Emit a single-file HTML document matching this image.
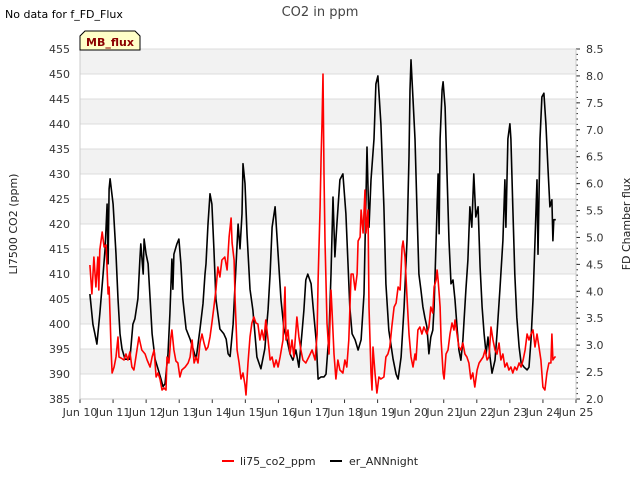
<!DOCTYPE html>
<html><head><meta charset="utf-8"><style>
body{margin:0;background:#fff;font-family:"Liberation Sans","DejaVu Sans",sans-serif;}
svg text{font-family:"DejaVu Sans","Liberation Sans",sans-serif;}
</style></head><body>
<svg id="chart" width="640" height="480" viewBox="0 0 640 480" xmlns="http://www.w3.org/2000/svg">
<rect width="640" height="480" fill="#fff"/>
<text x="320" y="16" text-anchor="middle" font-size="13" fill="#444">CO2 in ppm</text>
<text x="5" y="18" font-size="11" fill="#000">No data for f_FD_Flux</text>
<g id="bands"></g>
<g id="grid"></g>
<g id="axes"></g>
<g id="series"></g>
<g>
<path d="M80,50 L80,36 L85,31 L135,31 L140,36 L140,50 Z" fill="#ffffc8" stroke="#000" stroke-width="1"/>
<text x="110" y="46" text-anchor="middle" font-size="11" font-weight="bold" fill="#8b0000">MB_flux</text>
</g>
<text transform="translate(17,224) rotate(-90)" text-anchor="middle" font-size="11" fill="#222">LI7500 CO2 (ppm)</text>
<text transform="translate(630,224) rotate(-90)" text-anchor="middle" font-size="11" fill="#222">FD Chamber flux</text>
<g>
<g><line x1="222" y1="461" x2="234" y2="461" stroke="#f00" stroke-width="2"/><text x="240" y="465" font-size="11" fill="#222">li75_co2_ppm</text></g>
<g><line x1="330" y1="461" x2="342" y2="461" stroke="#000" stroke-width="2"/><text x="349" y="465" font-size="11" fill="#222">er_ANNnight</text></g>
</g>
</svg>
<script>
const leftTicks=[385,390,395,400,405,410,415,420,425,430,435,440,445,450,455];
const rightTicks=[2.0,2.5,3.0,3.5,4.0,4.5,5.0,5.5,6.0,6.5,7.0,7.5,8.0,8.5];
const dayLabels=["Jun 10","Jun 11","Jun 12","Jun 13","Jun 14","Jun 15","Jun 16","Jun 17","Jun 18","Jun 19","Jun 20","Jun 21","Jun 22","Jun 23","Jun 24","Jun 25"];
const co2Times=[0.30,0.36,0.42,0.48,0.54,0.57,0.60,0.67,0.73,0.79,0.82,0.85,0.88,0.91,0.94,0.97,1.03,1.09,1.15,1.18,1.24,1.33,1.39,1.45,1.51,1.57,1.63,1.69,1.78,1.87,1.97,2.03,2.12,2.18,2.24,2.30,2.36,2.42,2.48,2.54,2.60,2.63,2.69,2.75,2.78,2.84,2.90,2.96,3.02,3.08,3.18,3.27,3.33,3.39,3.45,3.51,3.57,3.63,3.69,3.75,3.81,3.87,3.93,3.99,4.05,4.11,4.17,4.23,4.29,4.38,4.45,4.51,4.57,4.60,4.66,4.69,4.75,4.81,4.87,4.93,4.99,5.02,5.08,5.14,5.20,5.26,5.32,5.38,
5.44,5.50,5.56,5.62,5.69,5.75,5.81,5.87,5.93,5.99,6.05,6.14,6.20,6.23,6.29,6.35,6.41,6.47,6.56,6.62,6.68,6.74,6.83,6.92,7.02,7.11,7.17,7.20,7.26,7.29,7.32,7.35,7.38,7.41,7.47,7.53,7.59,7.62,7.68,7.74,7.80,7.86,7.95,8.01,8.07,8.13,8.20,8.26,8.32,8.38,8.41,8.47,8.50,8.56,8.62,8.65,8.71,8.74,8.80,8.83,8.86,8.92,8.98,9.04,9.10,9.19,9.25,9.31,9.37,9.43,9.50,9.56,9.62,9.68,9.74,9.77,9.83,9.89,9.95,10.01,10.07,10.13,10.16,10.22,10.28,10.34,10.40,
10.49,10.55,10.61,10.67,10.71,10.77,10.80,10.83,10.86,10.89,10.92,10.98,11.01,11.07,11.13,11.19,11.25,11.31,11.34,11.40,11.46,11.52,11.58,11.64,11.70,11.76,11.82,11.88,11.94,12.01,12.07,12.13,12.19,12.25,12.31,12.37,12.43,12.49,12.55,12.61,12.67,12.73,12.79,12.85,12.91,12.97,13.03,13.09,13.15,13.21,13.28,13.34,13.40,13.46,13.52,13.58,13.64,13.70,13.76,13.82,13.88,13.94,14.00,14.06,14.12,14.18,14.24,14.27,14.30,14.36,14.39];
const co2Values=[411.8,406,413.4,407.4,413.4,406.8,414.8,418.4,415.4,415.8,410.8,406,407.4,401.4,394.8,390.2,391.4,393.4,397.4,393.4,393.2,392.8,394,392.8,394.4,391.4,390.8,393.4,397.4,394.8,394,392.8,391.4,393.4,394.8,389.4,390.2,389,386.8,387.2,386.8,393.4,392.2,397.4,398.8,394.8,392.6,392.2,389.4,390.8,391.4,392.2,393.4,396.8,392.2,393.4,392.2,396.2,398,396.2,394.8,395.4,397.4,400.2,403.4,406.8,411.4,409.4,412.8,413.4,410.8,417.4,421.2,416.2,412.8,404.8,394.8,392.2,389,390.2,387.8,385.8,392.2,397.4,400.2,401.4,400.2,400,
396.8,398.8,396.8,400.8,396.8,392.8,393.4,391.4,392.8,391.4,393.4,396.8,407.4,396.8,398.8,394,396.8,393.4,401.4,397.4,394.8,392.8,392.2,393.4,394.8,392.8,398,408.8,423.4,433.4,440,450,430,416.6,400.2,394,406.8,402.8,394,389,392.8,390.8,390.2,392.8,391.4,396.8,410,410,406.8,410,416.6,417.4,422.8,418.2,426.8,418.2,422.8,403.4,390.2,386.8,395.4,390.2,386.2,389.4,389,389.4,393.4,394,395.4,399.4,403.4,404.2,407.4,406.8,415.4,416.6,413.4,405.4,398,393.4,391.4,394,392.8,398.8,399.4,398,399.4,
398,399.4,403.4,402.2,407.4,408.8,410.8,408.8,406.2,403.4,396.8,390.2,389,394,394.8,398,400.2,398.8,400.8,398,395.4,394.8,396.2,394,393.4,392.2,389,390.2,387.4,390.8,392.2,392.8,393.4,394.8,392.8,393.4,399.4,396.8,394.8,394,396.2,392.8,394,391.4,392.2,390.8,391.4,390.2,391.4,390.8,392.2,391.4,392.8,394.8,398,396.8,398,398.8,395.4,398,395.4,392.8,387.4,386.8,390.2,392.2,392.2,398,392.8,393.4,393.4];
const fluxTimes=[0.30,0.39,0.45,0.51,0.60,0.70,0.76,0.82,0.85,0.88,0.91,1.00,1.09,1.15,1.21,1.27,1.36,1.51,1.60,1.66,1.75,1.81,1.84,1.91,1.94,2.00,2.06,2.12,2.18,2.27,2.36,2.45,2.51,2.57,2.66,2.72,2.78,2.81,2.84,2.93,2.99,3.05,3.11,3.21,3.33,3.42,3.51,3.63,3.72,3.78,3.81,3.87,3.93,3.99,4.05,4.11,4.23,4.35,4.42,4.48,4.54,4.63,4.72,4.78,4.84,4.90,4.93,4.99,5.05,5.14,
5.23,5.35,5.47,5.59,5.69,5.75,5.81,5.90,5.99,6.08,6.17,6.26,6.35,6.44,6.53,6.62,6.71,6.77,6.83,6.89,6.99,7.05,7.14,7.20,7.29,7.38,7.44,7.53,7.59,7.65,7.71,7.77,7.86,7.95,8.04,8.10,8.16,8.23,8.32,8.41,8.50,8.59,8.68,8.74,8.80,8.89,8.95,9.01,9.10,9.19,9.25,9.34,9.47,9.56,9.62,9.71,9.80,9.89,9.95,9.98,10.01,10.07,10.13,10.19,10.25,10.31,10.37,10.43,
10.49,10.55,10.61,10.67,10.71,10.77,10.83,10.86,10.89,10.95,10.98,11.04,11.10,11.16,11.22,11.28,11.34,11.40,11.46,11.52,11.58,11.67,11.73,11.79,11.85,11.91,11.97,12.04,12.10,12.16,12.22,12.28,12.34,12.40,12.46,12.55,12.61,12.70,12.79,12.85,12.88,12.94,13.00,13.03,13.09,13.15,13.21,13.28,13.34,13.43,13.52,13.58,13.64,13.70,13.76,13.82,13.85,13.91,13.97,14.03,14.09,14.15,14.21,14.27,14.30,14.33,14.39];
const fluxValues=[3.95,3.39,3.21,3.02,3.58,4.32,4.79,5.62,4.51,5.90,6.09,5.62,4.69,3.86,3.21,2.93,2.74,2.74,3.39,3.49,3.86,4.60,4.88,4.32,4.97,4.69,4.51,3.86,3.21,2.74,2.56,2.37,2.23,2.28,2.84,3.58,4.60,4.04,4.69,4.88,4.97,4.51,3.86,3.30,3.11,2.93,2.74,3.30,3.77,4.32,4.51,5.25,5.81,5.62,4.79,3.86,3.30,3.21,3.11,2.84,2.79,3.39,4.51,5.25,4.79,5.44,6.37,6.00,5.07,4.04,
3.65,2.78,2.56,2.93,3.67,4.32,5.19,5.57,4.69,3.84,3.30,3.10,2.84,2.72,2.91,2.59,3.21,3.65,4.21,4.32,4.14,3.71,3.10,2.37,2.41,2.41,2.46,3.21,4.32,5.75,4.64,5.25,6.07,6.18,5.44,4.60,3.71,3.21,3.10,2.91,3.10,3.95,6.68,5.19,6.07,6.83,7.85,8.00,7.11,5.57,4.14,3.28,2.74,2.46,2.37,2.78,3.71,4.94,6.50,7.74,8.30,7.57,6.83,5.57,4.32,4.03,3.71,3.51,
3.34,2.84,3.15,3.28,3.71,4.94,6.18,5.07,6.83,7.74,7.89,7.42,6.18,4.94,4.14,4.21,3.84,3.34,2.91,2.72,3.10,4.03,4.58,5.57,5.19,6.18,5.38,5.57,4.45,3.71,3.21,2.84,3.15,2.78,2.48,2.72,3.21,4.03,4.94,6.07,5.19,6.83,7.11,6.83,5.57,4.32,3.52,2.97,2.67,2.59,2.54,2.59,3.10,3.84,4.94,6.07,4.69,6.83,7.61,7.68,7.11,6.31,5.57,5.70,4.94,5.33,5.33];

const L=80,R=576,T=49,B=399;
const xS=t=>L+t*(R-L)/15;
const yL=v=>B-(v-385)*(B-T)/70;
const yR=v=>B-(v-2)*(B-T)/6.5;
const NS="http://www.w3.org/2000/svg";
function mk(tag,attrs,parent){const e=document.createElementNS(NS,tag);for(const k in attrs)e.setAttribute(k,attrs[k]);parent.appendChild(e);return e;}
const bands=document.getElementById('bands'),grid=document.getElementById('grid'),axes=document.getElementById('axes'),series=document.getElementById('series');
mk('rect',{x:L,y:T,width:R-L,height:B-T,fill:'#fff'},bands);
for(let i=0;i<leftTicks.length-1;i++){
  if(i%2===1){const r=mk('rect',{x:L,y:yL(leftTicks[i+1]),width:R-L,height:yL(leftTicks[i])-yL(leftTicks[i+1]),fill:'#f2f2f2'},bands);
  
  }
}
leftTicks.forEach(v=>{
  const y=yL(v);
  const g=mk('line',{x1:L,x2:R,y1:y,y2:y,stroke:'#dcdcdc','stroke-width':1},grid);
  
  
  const t=mk('text',{x:L-10,y:y+4,'text-anchor':'end','font-size':11,fill:'#333'},axes);
  t.textContent=v;
  
  
});
rightTicks.forEach(v=>{
  const y=yR(v);
  const t=mk('text',{x:R+10,y:y+4,'font-size':11,fill:'#333'},axes);
  t.textContent=v.toFixed(1);
  
  
  mk('line',{x1:R,x2:R+4,y1:y,y2:y,stroke:'#333'},axes);
});
for(let v=2.0;v<=8.5001;v+=0.1){const y=yR(v);mk('line',{x1:R,x2:R+2,y1:y,y2:y,stroke:'#333'},axes);}
dayLabels.forEach((d,i)=>{
  const x=xS(i);
  const t=mk('text',{x:x,y:B+17,'text-anchor':'middle','font-size':11,fill:'#333'},axes);
  t.textContent=d;
  
  
  mk('line',{x1:x,x2:x,y1:B,y2:B+4,stroke:'#333'},axes);
});
const ax=mk('path',{d:`M${L},${T}V${B}H${R}V${T}`,fill:'none',stroke:'#ccc'},axes);


function line(ts,vs,ys,color,name){
  const d=ts.map((t,i)=>(i?'L':'M')+xS(t).toFixed(1)+','+ys(vs[i]).toFixed(1)).join('');
  const p=mk('path',{d:d,fill:'none',stroke:color,'stroke-width':1.6,'stroke-linejoin':'round'},series);
  
  
}
line(fluxTimes,fluxValues,yR,'#000','er-annnight-line');
line(co2Times,co2Values,yL,'#f00','li75-co2-line');
</script>
</body></html>
